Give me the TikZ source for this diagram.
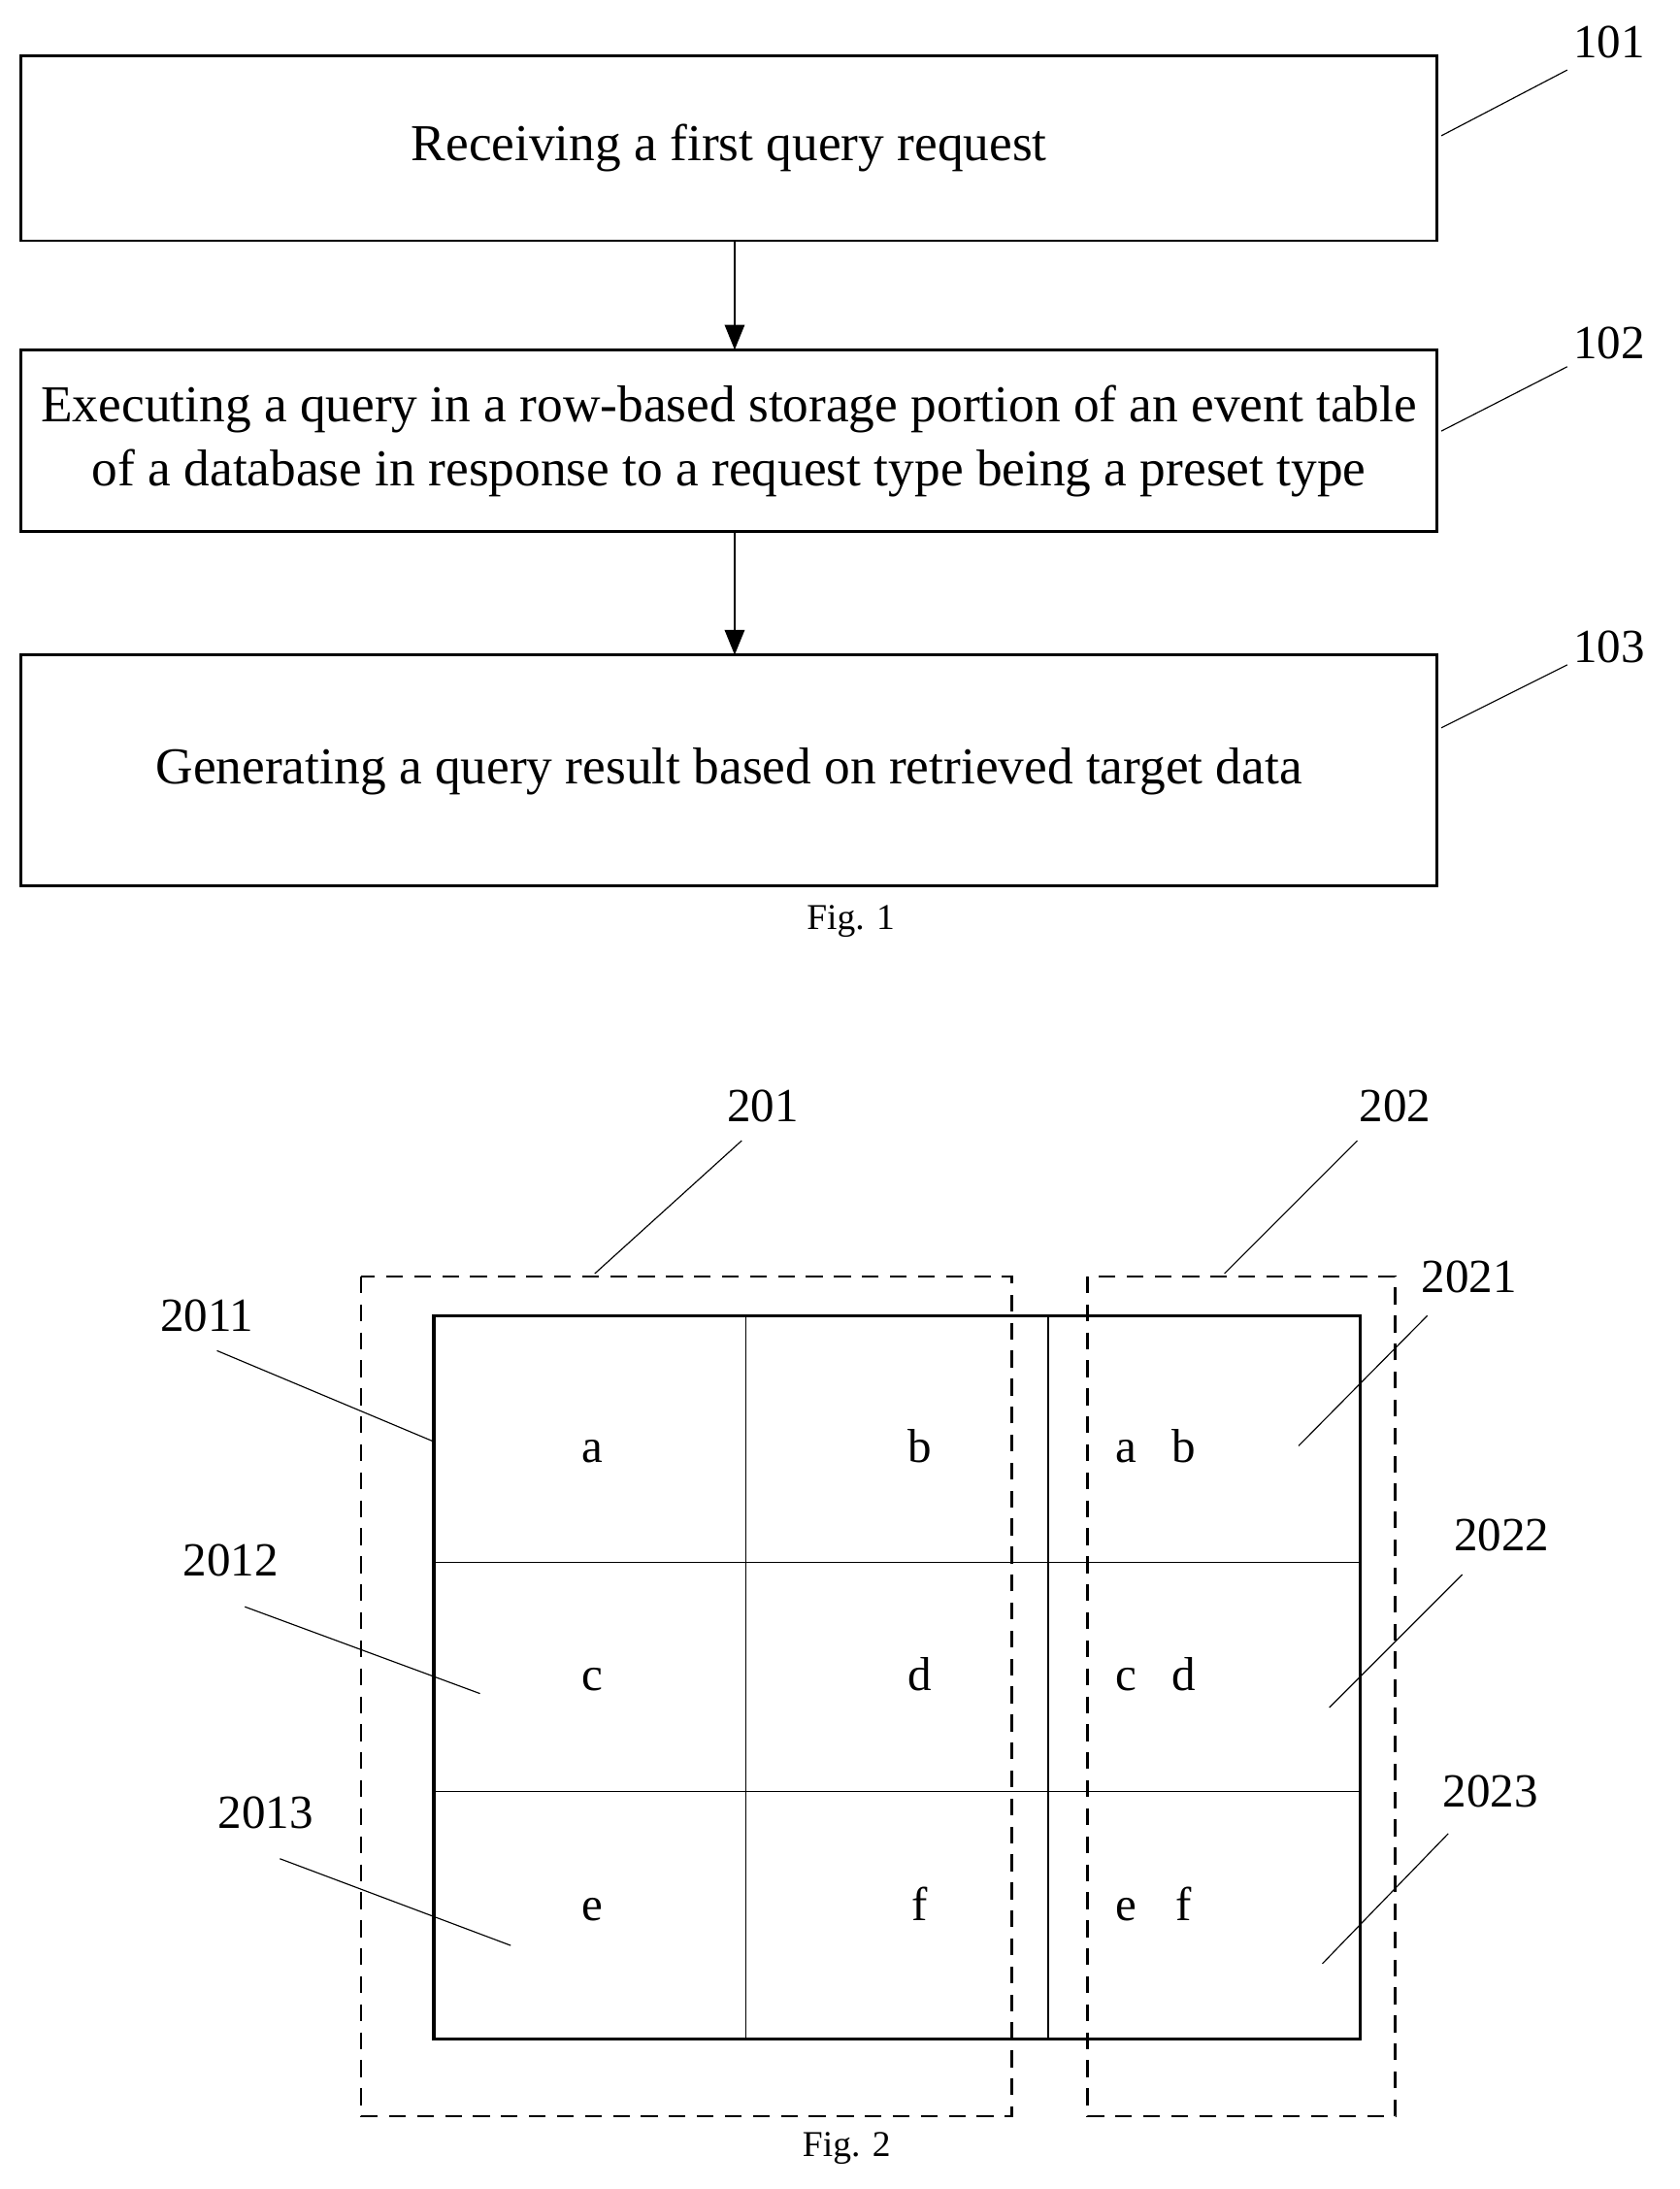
\documentclass[tikz,border=0pt]{standalone}
\usepackage{fontspec}
\setmainfont{Liberation Serif}
\usetikzlibrary{arrows.meta}
\tikzset{
  stepbox/.style={draw, line width=1pt},
  steptext/.style={font=\fontsize{18.5}{23}\selectfont, align=center},
  reflabel/.style={font=\fontsize{17}{20}\selectfont},
  leader/.style={line width=0.4pt},
  cellline/.style={line width=0.4pt},
  portion/.style={draw, line width=0.9pt, dash pattern=on 6pt off 4pt},
  cellchar/.style={font=\fontsize{17}{20}\selectfont, anchor=base},
  flow/.style={-{Triangle[length=9pt,width=7pt]}, line width=1pt},
}
\begin{document}
\begin{tikzpicture}[x=0.5pt,y=-0.5pt]
\useasboundingbox (0,0) rectangle (1200,1564);
% Fig. 1
\draw[stepbox] (15,40) rectangle (1027,172);
\draw[stepbox] (15,250) rectangle (1027,380);
\draw[stepbox] (15,468) rectangle (1027,633);
\node[steptext] (s1) at (521,106) {Receiving a first query request};
\node[steptext] (s2) at (521,315) {Executing a query in a row-based storage portion of an event table\\of a database in response to a request type being a preset type};
\node[steptext] (s3) at (521,551) {Generating a query result based on retrieved target data};
\coordinate (s1b) at (525,172); \coordinate (s2t) at (525,250);
\coordinate (s2b) at (525,380); \coordinate (s3t) at (525,468);
\draw[flow] (s1b) -- (s2t);
\draw[flow] (s2b) -- (s3t);
\node[reflabel] (l101) at (1150,30) {101};
\node[reflabel] (l102) at (1150,245) {102};
\node[reflabel] (l103) at (1150,462) {103};
\draw[leader] (1030,97) -- (1120,50);
\draw[leader] (1030,308) -- (1120,262);
\draw[leader] (1030,520) -- (1120,475);
\node[font=\fontsize{13}{16}\selectfont] (fig1) at (608,658) {Fig. 1};
% Fig. 2
\draw[line width=1.2pt] (310,940) rectangle (972,1457);
\foreach \x in {533,749} \draw[cellline] (\x,940) -- (\x,1457);
\foreach \y in {1116,1280} \draw[cellline] (310,\y) -- (972,\y);
\draw[portion] (258,912) rectangle (723,1512);
\draw[portion] (777,912) rectangle (997,1512);
\foreach \y/\l/\r in {1045/a/b,1208/c/d,1372/e/f}{
  \node[cellchar] at (423,\y) {\l};
  \node[cellchar] at (657,\y) {\r};
  \node[cellchar] at (805,\y) {\l};
  \node[cellchar] at (846,\y) {\r};
}
\node[reflabel] (l201) at (545,790) {201};
\node[reflabel] (l202) at (997,790) {202};
\node[reflabel] (l2011) at (148,940) {2011};
\node[reflabel] (l2012) at (165,1115) {2012};
\node[reflabel] (l2013) at (190,1295) {2013};
\node[reflabel] (l2021) at (1050,912) {2021};
\node[reflabel] (l2022) at (1073,1097) {2022};
\node[reflabel] (l2023) at (1065,1280) {2023};
\draw[leader] (425,910) -- (530,815);
\draw[leader] (875,910) -- (970,815);
\draw[leader] (155,965) -- (310,1030);
\draw[leader] (175,1148) -- (343,1210);
\draw[leader] (200,1328) -- (365,1390);
\draw[leader] (928,1033) -- (1020,940);
\draw[leader] (950,1220) -- (1045,1125);
\draw[leader] (945,1403) -- (1035,1310);
\node[font=\fontsize{13}{16}\selectfont] (fig2) at (605,1535) {Fig. 2};
\end{tikzpicture}
\end{document}
